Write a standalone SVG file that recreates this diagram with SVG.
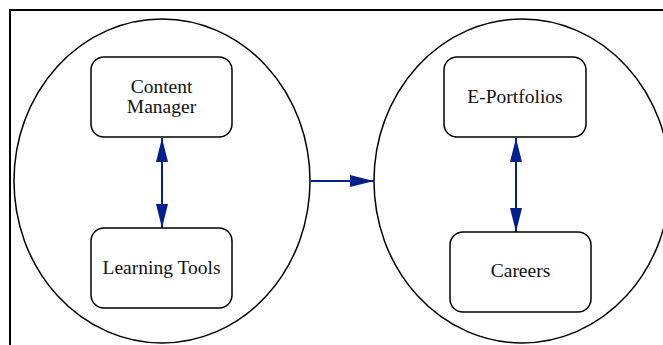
<svg xmlns="http://www.w3.org/2000/svg" width="663" height="345" viewBox="0 0 663 345">
  <style>
    .frame { fill: none; stroke: #000; stroke-width: 2; }
    .group { fill: none; stroke: #000; stroke-width: 1.5; }
    .box { fill: #fff; stroke: #000; stroke-width: 1.5; }
    .label { font-family: "Liberation Serif", "Times New Roman", serif; font-size: 19.5px; fill: #111; text-anchor: middle; }
    .link { fill: none; stroke: #002090; stroke-width: 2; }
  </style>
  <defs>
    <marker id="head" viewBox="0 0 24 12" refX="24" refY="6" markerWidth="24" markerHeight="12" markerUnits="userSpaceOnUse" orient="auto-start-reverse">
      <path d="M0,0 L24,6 L0,12 Z" fill="#002090"/>
    </marker>
  </defs>
  <rect width="663" height="345" fill="#fff"/>
  <path class="frame" d="M10,345 V10 H663"/>

  <g id="platform">
    <ellipse class="group" cx="162" cy="181" rx="148" ry="162"/>
  </g>
  <g id="outcomes">
    <ellipse class="group" cx="522" cy="181" rx="148" ry="162"/>
  </g>

  <g id="connectors">
    <line class="link" x1="162" y1="138" x2="162" y2="228" marker-start="url(#head)" marker-end="url(#head)"/>
    <line class="link" x1="516" y1="138" x2="516" y2="232" marker-start="url(#head)" marker-end="url(#head)"/>
    <line class="link" x1="311" y1="181" x2="374" y2="181" marker-end="url(#head)"/>
  </g>

  <g id="content-manager">
    <rect class="box" x="91" y="57" width="141" height="80" rx="13"/>
    <text class="label" x="161.5" y="93">Content</text>
    <text class="label" x="161.5" y="113">Manager</text>
  </g>
  <g id="learning-tools">
    <rect class="box" x="91" y="228" width="141" height="80" rx="13"/>
    <text class="label" x="161.5" y="274">Learning Tools</text>
  </g>
  <g id="e-portfolios">
    <rect class="box" x="444" y="57" width="142" height="80" rx="13"/>
    <text class="label" x="515" y="103">E-Portfolios</text>
  </g>
  <g id="careers">
    <rect class="box" x="450" y="232" width="141" height="80" rx="13"/>
    <text class="label" x="520.5" y="277">Careers</text>
  </g>
</svg>
